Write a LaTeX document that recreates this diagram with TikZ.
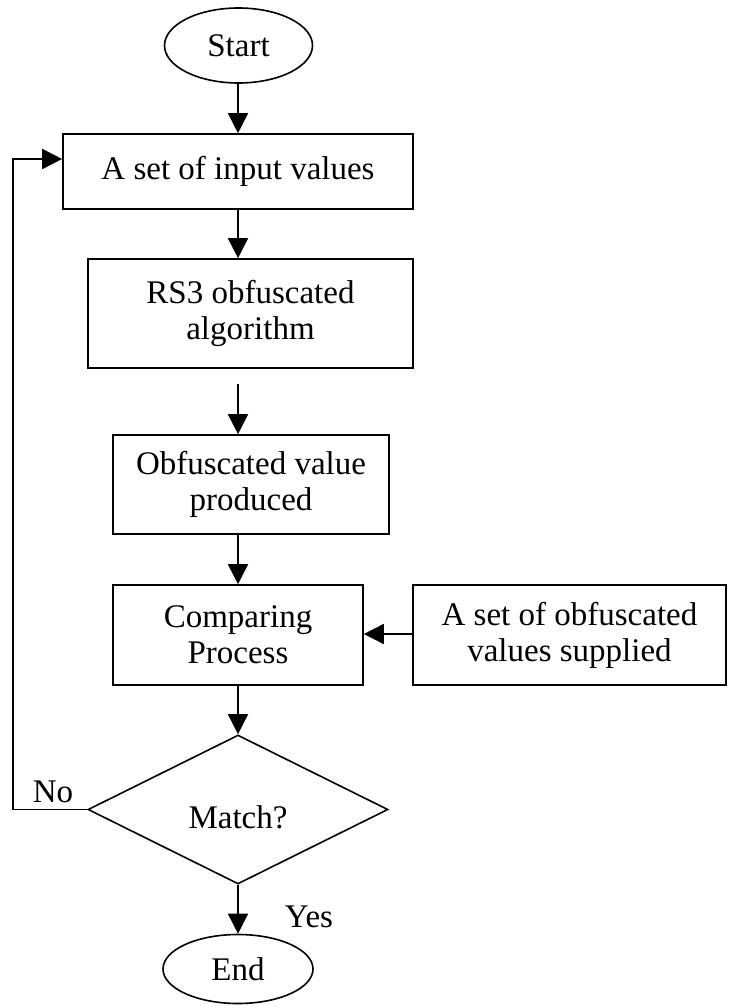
\documentclass[tikz,border=0pt]{standalone}
\usepackage{fontspec}
\setmainfont{Liberation Serif}
\usetikzlibrary{shapes.geometric,arrows.meta}

\tikzset{
  base/.style={draw=black, line width=1.6pt, inner sep=0pt, align=center,
               font=\fontsize{33}{36}\selectfont},
  terminal/.style={base, ellipse},
  procbox/.style={base, rectangle},
  decision/.style={base, diamond},
  flow/.style={line width=1.6pt, -{Triangle[length=20pt,width=20pt]}},
  plainlabel/.style={inner sep=0pt, font=\fontsize{33}{36}\selectfont}
}

\begin{document}
\begin{tikzpicture}[x=1pt,y=-1pt]
  \useasboundingbox (0,0) rectangle (728,1006);

  % flow chart blocks
  \node[terminal, minimum width=148pt, minimum height=75pt] (start) at (238.5,45.5) {Start};
  \node[procbox, minimum width=350pt, minimum height=75pt] (input) at (238,171.5) {A set of input values};
  \node[procbox, minimum width=325pt, minimum height=109pt] (rs3) at (250.5,313.5) {RS3 obfuscated\\algorithm};
  \node[procbox, minimum width=276pt, minimum height=99pt] (obf) at (251,484.5) {Obfuscated value\\produced};
  \node[procbox, minimum width=250pt, minimum height=100pt] (compare) at (238,635) {Comparing\\Process};
  \node[procbox, minimum width=313pt, minimum height=100pt] (supply) at (569.5,635) {A set of obfuscated\\values supplied};
  \node[decision, minimum width=300pt, minimum height=149pt] (match) at (238,809.5) {};
  \node[plainlabel] (matchtext) at (238,817) {Match?};
  \node[terminal, minimum width=150pt, minimum height=69pt] (end) at (238,969) {End};

  % branch labels
  \node[plainlabel] (nolabel) at (53,792) {No};
  \node[plainlabel] (yeslabel) at (309,917) {Yes};

  % connectors
  \coordinate (loopcorner) at (13,159);
  \draw[flow] (start.south -| input.north) -- (input.north);
  \draw[flow] (input.south) -- (input.south |- rs3.north);
  \draw[flow, shorten <=15pt] (rs3.south -| input.south) -- (obf.north -| input.south);
  \draw[flow] (obf.south -| compare.north) -- (compare.north);
  \draw[flow] (supply.west |- 0,634) -- (compare.east |- 0,634);
  \draw[flow] (compare.south) -- (match.north);
  \draw[flow] (match.south) -- (end.north);
  \draw[flow] (match.west) -| (loopcorner) -- (input.west |- loopcorner);
\end{tikzpicture}
\end{document}
